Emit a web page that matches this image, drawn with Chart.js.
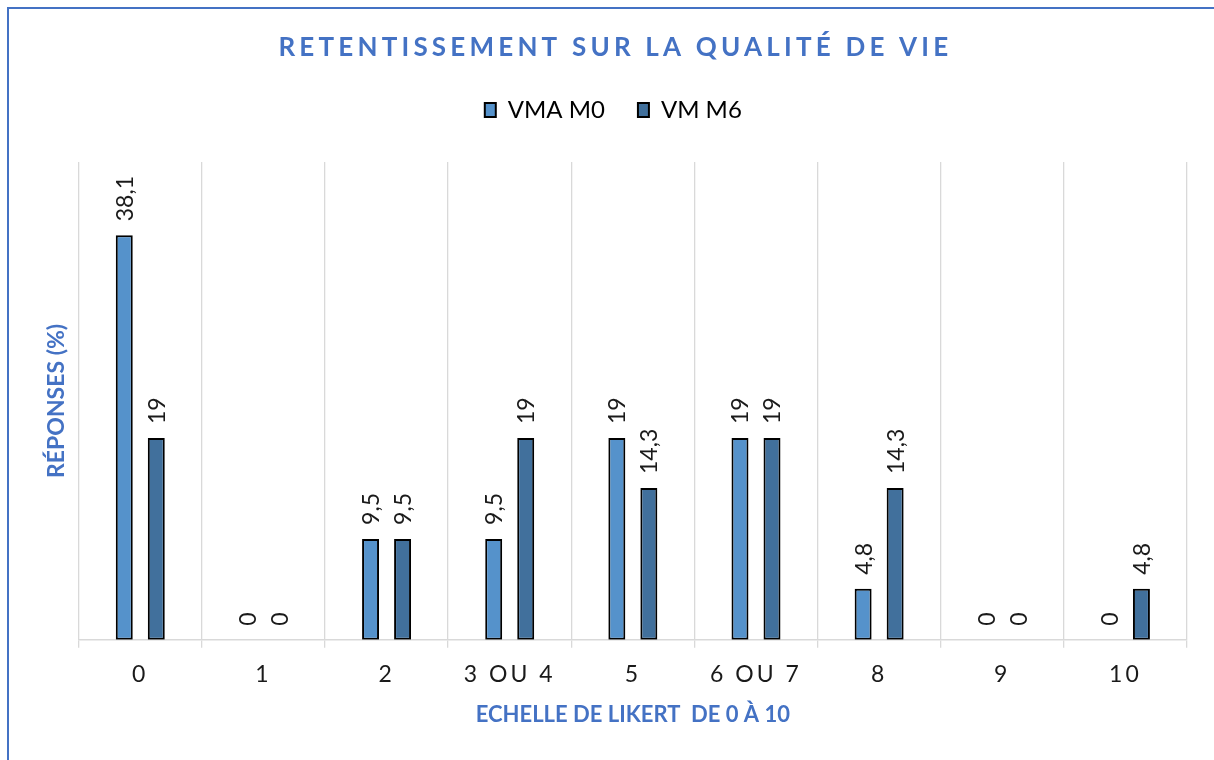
<!DOCTYPE html>
<html><head><meta charset="utf-8">
<script src="https://cdn.jsdelivr.net/npm/chart.js@4.4.1/dist/chart.umd.min.js"></script>
<style>
html,body{margin:0;padding:0;background:#fff;}
#wrap{position:relative;width:1214px;height:760px;overflow:hidden;}
#frame{position:absolute;left:7px;top:7px;right:-10px;bottom:-10px;border-left:2px solid #4472C4;border-top:2px solid #4472C4;pointer-events:none;}
canvas{display:block;}
</style></head><body>
<div id="wrap"><canvas id="c" width="1214" height="760"></canvas><div id="frame"></div></div>
<script>
const categories = ['0', '1', '2', '3 OU 4', '5', '6 OU 7', '8', '9', '10'];
const vmaM0 = [38.1, 0, 9.5, 9.5, 19, 19, 4.8, 0, 0];
const vmM6 = [19, 0, 9.5, 19, 14.3, 19, 14.3, 0, 4.8];
const seriesNames = ['VMA M0', 'VM M6'];
const seriesColors = ['#5592CB', '#41709C'];
const titleText = 'RETENTISSEMENT SUR LA QUALITÉ DE VIE';
const xTitleText = 'ECHELLE DE LIKERT  DE 0 À 10';
const yTitleText = 'RÉPONSES (%)';
const yMin = 0, yMax = 45;

const BLUE = '#4472C4';
const GRID = '#D9D9D9';
const FONT = 'Lato';
const TITLE_SIZE = 26;

const decoPlugin = {
  id: 'deco',
  afterDatasetsDraw(chart) {
    const ctx = chart.ctx;
    ctx.save();
    ctx.font = '23px ' + FONT;
    ctx.fillStyle = '#1a1a1a';
    ctx.textAlign = 'left';
    ctx.textBaseline = 'middle';
    chart.data.datasets.forEach((ds, i) => {
      const meta = chart.getDatasetMeta(i);
      meta.data.forEach((bar, j) => {
        const v = ds.data[j];
        ctx.save();
        ctx.translate(bar.x + 1, bar.y - 14);
        ctx.rotate(-Math.PI / 2);
        ctx.fillText(String(v).replace('.', ','), 0, 0);
        ctx.restore();
      });
    });
    ctx.restore();
    // letter spacing for the category tick labels drawn next
    ctx.letterSpacing = '3px';
  },
  afterDraw(chart) {
    const ctx = chart.ctx;
    ctx.letterSpacing = '0px';
    const tb = chart.titleBlock;
    ctx.save();
    ctx.font = 'bold ' + TITLE_SIZE + 'px ' + FONT;
    ctx.letterSpacing = '4.2px';
    ctx.fillStyle = BLUE;
    ctx.textAlign = 'center';
    ctx.textBaseline = 'middle';
    const y = tb.top + tb._padding.top + TITLE_SIZE * 1.2 / 2;
    const x = (tb.left + tb.right) / 2 + 2.1;
    ctx.fillText(titleText, x, y);
    ctx.restore();
  }
};

function build() {
  const ctx = document.getElementById('c').getContext('2d');
  new Chart(ctx, {
    type: 'bar',
    data: {
      labels: categories,
      datasets: [
        { label: seriesNames[0], data: vmaM0, backgroundColor: seriesColors[0], borderColor: '#000',
          borderWidth: c => (c.raw === 0 ? 0 : 2), borderSkipped: false,
          categoryPercentage: 0.52, barPercentage: 0.53 },
        { label: seriesNames[1], data: vmM6, backgroundColor: seriesColors[1], borderColor: '#000',
          borderWidth: c => (c.raw === 0 ? 0 : 2), borderSkipped: false,
          categoryPercentage: 0.52, barPercentage: 0.53 }
      ]
    },
    options: {
      responsive: false,
      animation: false,
      devicePixelRatio: 1,
      layout: { padding: { left: 39.6, right: 27, top: 0, bottom: 27.8 } },
      plugins: {
        title: {
          display: true, text: titleText, color: 'rgba(0,0,0,0)',
          font: { family: FONT, size: TITLE_SIZE, weight: 'bold' },
          padding: { top: 32.4, bottom: 1.4 }
        },
        subtitle: {
          display: true, text: '', weight: 500,
          font: { size: 1 }, padding: { top: 0, bottom: 28.8 }
        },
        legend: {
          display: true, position: 'top',
          labels: {
            color: '#000', font: { family: FONT, size: 24 },
            boxWidth: 11, boxHeight: 14, padding: 33
          }
        },
        tooltip: { enabled: false }
      },
      scales: {
        x: {
          grid: { display: true, color: GRID, lineWidth: 1.3, offset: true, drawTicks: true, tickLength: 8, tickColor: GRID },
          border: { display: true, color: GRID, width: 1.5 },
          ticks: { color: '#1a1a1a', font: { family: FONT, size: 23 }, padding: 13.2, maxRotation: 0, autoSkip: false, z: 1 },
          title: { display: true, text: xTitleText, color: BLUE, font: { family: FONT, size: 22, weight: 'bold' }, padding: { top: 0, bottom: 4 } }
        },
        y: {
          min: yMin, max: yMax,
          grid: { display: false },
          border: { display: false },
          ticks: { display: false },
          title: { display: true, text: yTitleText, color: BLUE, font: { family: FONT, size: 23, weight: 'bold' }, padding: { top: 3.5, bottom: 0 } }
        }
      }
    },
    plugins: [decoPlugin]
  });
}

Promise.all([
  document.fonts.load('23px Lato'),
  document.fonts.load('bold 24px Lato')
]).then(build, build);
</script>
</body></html>
